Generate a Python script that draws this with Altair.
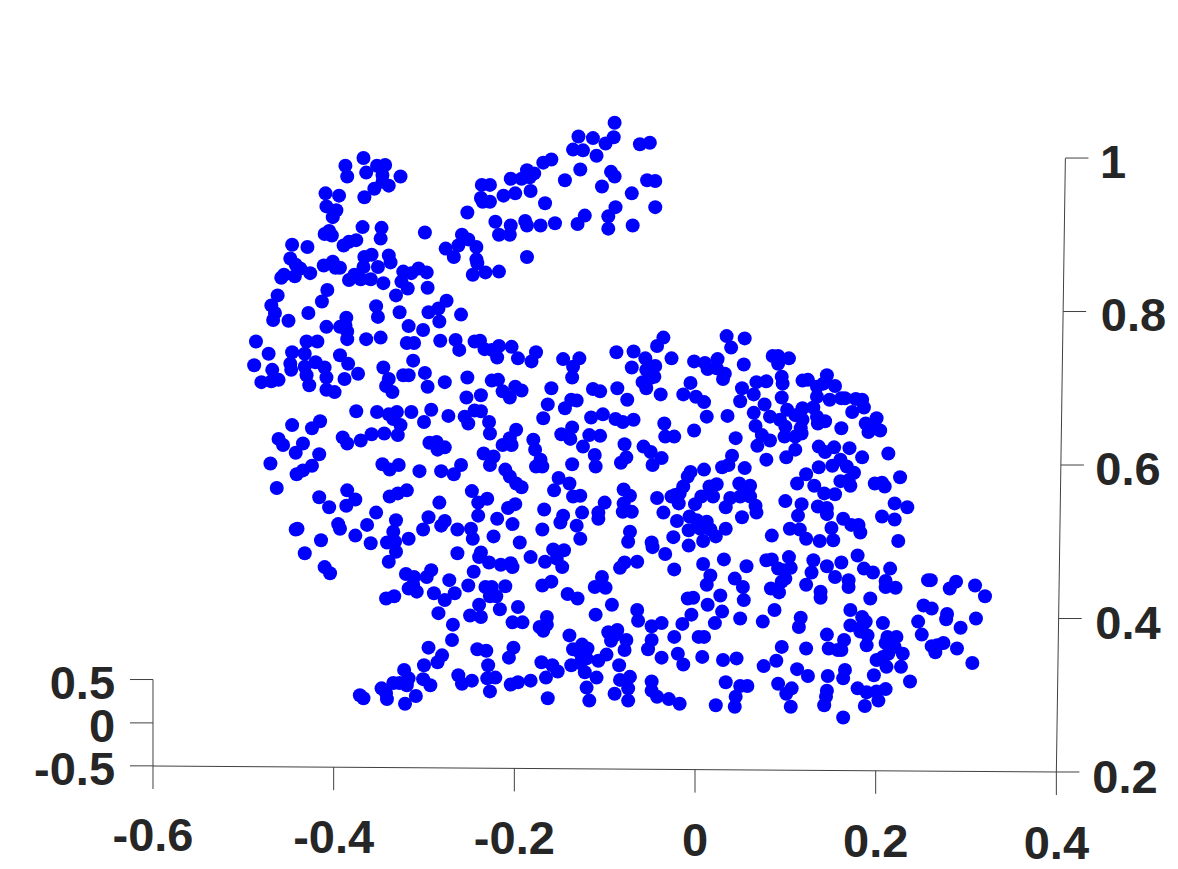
import altair as alt
import pandas as pd

# Scatter values (x on the bottom axis, z on the right axis)
ear_left_x = [-.367,-.387,-.385,-.364,-.352,-.343,-.346,-.339,-.355,-.366,-.326,-.346,-.409,-.394,-.408,-.397,-.401,-.368,-.347,-.348,-.299,-.410,-.405,-.402,-.389,-.383,-.375,-.446,-.429,-.276,-.267,-.448,-.442,-.437,-.443,-.426,-.458,-.455,-.411,-.401,-.398,-.393,-.366,-.358,-.339,-.337,-.351,-.367,-.377,-.383,-.370,-.359,-.345,-.323,-.314,-.306,-.297,-.325,-.318,-.296,-.331,-.462,-.469,-.465,-.467,-.450,-.407,-.413,-.428,-.353,-.351,-.327,-.295,-.284,-.275,-.283,-.386]
ear_left_z = [1.000,.990,.976,.981,.990,.991,.978,.964,.960,.949,.976,.969,.954,.951,.937,.932,.923,.910,.909,.895,.903,.901,.905,.899,.886,.891,.893,.887,.884,.882,.871,.869,.861,.856,.846,.850,.844,.848,.860,.865,.857,.857,.871,.874,.873,.864,.858,.858,.848,.841,.842,.842,.837,.852,.850,.856,.851,.839,.830,.831,.821,.821,.808,.798,.789,.788,.828,.813,.798,.807,.793,.799,.799,.804,.814,.787,.792]

ear_right_x = [-.089,-.090,-.129,-.113,-.099,-.124,-.135,-.109,-.061,-.050,-.159,-.168,-.127,-.093,-.089,-.186,-.178,-.192,-.183,-.204,-.144,-.053,-.044,-.103,-.236,-.227,-.182,-.070,-.199,-.212,-.237,-.235,-.227,-.166,-.252,-.088,-.044,-.122,-.096,-.130,-.221,-.204,-.188,-.186,-.171,-.155,-.069,-.096,-.217,-.205,-.258,-.251,-.262,-.242,-.186,-.242,-.241,-.246,-.232,-.217,-.259]
ear_right_z = [1.046,1.027,1.028,1.026,1.019,1.010,1.011,1.003,1.018,1.020,.998,.994,.985,.982,.976,.984,.980,.973,.975,.973,.971,.971,.970,.963,.965,.965,.957,.954,.954,.951,.948,.943,.943,.941,.929,.936,.936,.925,.924,.914,.917,.912,.918,.912,.912,.915,.912,.908,.900,.900,.900,.894,.886,.884,.871,.868,.863,.848,.851,.852,.796]

head_x = [-.408,-.393,-.387,-.385,-.385,-.364,-.348,-.317,-.301,-.319,-.311,-.282,-.486,-.472,-.488,-.446,-.430,-.418,-.432,-.393,-.384,-.312,-.448,-.447,-.420,-.410,-.432,-.430,-.468,-.480,-.469,-.461,-.373,-.408,-.388,-.345,-.339,-.342,-.335,-.323,-.317,-.299,-.296,-.277,-.427,-.408,-.399,-.375,-.352,-.339,-.330,-.314,-.292,-.273,-.334,-.326,-.300,-.415,-.424,-.446,-.461,-.456,-.434,-.442,-.416,-.470,-.390,-.385,-.370,-.358,-.344,-.329,-.294,-.286,-.277,-.285,-.424,-.434,-.441,-.346,-.338,-.328,-.305,-.281,-.267,-.463,-.416,-.385,-.376,-.386,-.405,-.319,-.329,-.338,-.353,-.283]
head_z = [.780,.780,.782,.774,.764,.764,.766,.781,.776,.759,.759,.762,.761,.745,.730,.747,.761,.761,.745,.743,.732,.736,.732,.724,.734,.727,.728,.717,.724,.708,.709,.711,.719,.714,.712,.727,.712,.703,.695,.717,.717,.720,.702,.708,.704,.698,.695,.670,.669,.666,.669,.669,.672,.664,.660,.652,.656,.657,.648,.652,.634,.626,.628,.616,.614,.602,.636,.628,.632,.640,.641,.639,.629,.630,.623,.620,.599,.593,.588,.601,.594,.600,.592,.592,.588,.570,.558,.567,.555,.547,.545,.567,.563,.559,.538,.551]

chest_x = [-.265,-.261,-.244,-.238,-.233,-.225,-.217,-.219,-.203,-.196,-.181,-.176,-.146,-.128,-.135,-.136,-.087,-.068,-.035,-.042,-.070,-.055,-.044,-.026,-.054,-.058,-.054,-.045,-.050,-.038,-.252,-.225,-.218,-.213,-.205,-.199,-.192,-.159,-.113,-.105,-.086,-.075,-.253,-.237,-.163,-.137,-.131,-.144,-.168,-.102,-.115,-.088,-.080,-.068,-.255,-.251,-.244,-.237,-.228,-.227,-.198,-.205,-.213,-.203,-.179,-.177,-.234,-.223,-.227,-.259,-.210,-.205,-.198,-.192,-.171,-.176,-.169,-.136,-.148,-.136,-.138,-.124,-.117,-.105,-.111,-.110,-.078,-.076,-.082,-.057,-.049,-.037,-.047,-.034,-.033,-.023,-.151,-.139,-.156,-.135,-.127,-.247,-.230,-.240,-.199,-.207,-.167,-.100,-.125,-.107,-.079,-.072,-.079,-.070,-.080,-.042,-.035,-.026]
chest_z = [.763,.750,.761,.762,.751,.750,.755,.740,.754,.739,.735,.747,.738,.739,.728,.714,.747,.748,.766,.755,.727,.739,.729,.739,.724,.708,.700,.715,.713,.692,.714,.710,.711,.696,.688,.702,.697,.700,.699,.696,.700,.685,.688,.691,.679,.685,.684,.674,.661,.666,.662,.660,.656,.659,.663,.654,.671,.670,.656,.641,.646,.635,.626,.626,.633,.620,.615,.611,.600,.600,.594,.585,.576,.571,.607,.598,.598,.601,.640,.649,.634,.624,.639,.638,.613,.598,.627,.610,.603,.624,.617,.609,.600,.654,.637,.637,.583,.576,.567,.559,.560,.566,.556,.551,.549,.544,.542,.551,.538,.538,.568,.560,.550,.539,.539,.557,.538,.559]

back_x = [.035,.055,.040,-.001,.011,.025,.014,.024,.033,.031,.054,.086,.092,.104,.092,.096,.097,.096,.119,.125,.146,.155,.135,.142,.079,.068,.052,.065,.050,-.005,-.013,.001,.010,.013,.036,-.001,.045,.135,.149,.162,.166,.178,.185,.187,.174,.077,.065,.083,.067,.102,.094,.100,.099,.119,.131,.111,.119,.117,.118,.111,.136,.144,.135,.162,.201,.189,.192,.205,.197,.074,.083,.069,.079,.111,.101,.041,.030,.037,.055,.137,.144,.154,.171,.185,.214,.137,.152,.161,.168,.176,.123,.113,.161,.170,.172,.227,.199,.207,.210,.132,.143,.155,.100,.118,.136,.146,.221,.235,.010,-.005,-.008,-.013,.024,.016,.020,.007,.000,-.022,-.018,-.017,.049,.061,.055,.039,.050,.061,.067,.034,.068]
back_z = [.768,.765,.753,.735,.733,.738,.725,.726,.719,.712,.731,.742,.742,.739,.732,.715,.706,.688,.710,.711,.717,.703,.702,.706,.709,.708,.700,.692,.683,.707,.692,.689,.682,.663,.664,.645,.635,.689,.685,.687,.687,.686,.685,.675,.669,.679,.668,.663,.651,.672,.659,.650,.637,.674,.675,.665,.659,.648,.641,.637,.654,.657,.663,.648,.661,.654,.643,.645,.651,.639,.632,.625,.607,.620,.610,.612,.597,.600,.596,.624,.617,.623,.622,.610,.615,.597,.599,.607,.598,.590,.588,.576,.579,.580,.573,.584,.576,.577,.572,.573,.563,.562,.553,.549,.546,.544,.550,.545,.594,.591,.585,.572,.575,.572,.559,.559,.549,.561,.550,.563,.576,.573,.565,.557,.559,.559,.547,.545,.538]

belly_left_x = [-.440,-.442,-.395,-.393,-.414,-.376,-.363,-.359,-.432,-.410,-.404,-.331,-.334,-.341,-.332,-.317,-.331,-.339,-.295,-.301,-.277,-.281,-.263,-.248,-.246,-.223,-.263,-.237,-.239,-.228,-.215,-.240,-.219,-.245,-.251,-.272,-.266,-.277,-.289,-.292,-.297,-.320,-.311,-.312,-.317,-.308,-.333,-.342,-.284,-.232,-.225,-.227,-.220,-.210,-.239,-.249,-.237,-.216,-.268,-.269,-.295,-.280,-.285,-.300,-.241,-.231,-.229,-.322,-.317,-.327,-.334,-.347,-.341,-.342,-.319,-.309,-.321,-.301,-.293,-.371,-.367,-.262,-.258,-.247,-.230,-.221,-.227]
belly_left_z = [.517,.516,.523,.517,.502,.508,.522,.498,.485,.467,.459,.528,.513,.499,.500,.504,.487,.474,.532,.516,.527,.521,.516,.517,.504,.507,.485,.486,.480,.473,.470,.534,.530,.461,.443,.450,.433,.424,.433,.463,.454,.458,.454,.444,.439,.435,.429,.426,.407,.441,.441,.429,.429,.442,.418,.404,.402,.412,.392,.372,.362,.352,.343,.339,.360,.358,.339,.333,.322,.316,.316,.309,.295,.303,.313,.299,.289,.321,.313,.300,.296,.326,.315,.319,.322,.323,.305]

belly_mid_x = [-.202,-.169,-.149,-.146,-.131,-.127,-.107,-.194,-.182,-.166,-.157,-.145,-.153,-.147,-.204,-.202,-.169,-.159,-.141,-.130,-.103,-.111,-.099,-.078,-.083,-.064,-.072,-.074,-.048,-.047,-.024,-.007,-.033,-.023,.009,.017,.013,.032,.009,.023,.034,-.020,-.007,.002,.013,-.006,.006,.017,-.008,-.002,.028,.014,.030,-.004,-.014,.022,-.092,-.110,-.064,-.063,-.037,-.048,-.023,.004,.010,-.048,-.052,-.019,-.013,-.037,.008,.031,-.196,-.202,-.191,-.164,-.172,-.164,-.168,-.139,-.096,-.086,-.089,-.093,-.076,-.078,-.125,-.119,-.135,-.127,-.120,-.137,-.127,-.122,-.098,-.107,-.201,-.206,-.170,-.158,-.152,-.165,-.084,-.109,-.072,-.083,-.074,-.089,-.074,-.120,-.117,-.163,-.204,-.196,-.182,-.048,-.048,-.042,-.029,-.017,.023,.034]
belly_mid_z = [.523,.516,.525,.534,.521,.504,.530,.499,.480,.474,.490,.489,.478,.467,.472,.467,.443,.448,.432,.426,.454,.441,.440,.473,.466,.474,.513,.500,.499,.493,.506,.495,.484,.464,.471,.456,.444,.477,.501,.507,.517,.527,.515,.528,.526,.533,.517,.516,.426,.427,.430,.418,.409,.405,.393,.394,.418,.405,.411,.397,.394,.390,.376,.376,.376,.372,.360,.354,.340,.349,.350,.346,.415,.395,.395,.402,.389,.392,.384,.378,.382,.385,.378,.371,.372,.359,.366,.361,.360,.355,.348,.339,.342,.330,.353,.345,.362,.349,.343,.339,.331,.323,.339,.323,.324,.320,.309,.302,.293,.310,.293,.296,.314,.317,.319,.318,.306,.298,.295,.289,.287,.317]

haunch_x = [.052,.114,.146,.164,.207,.221,.085,.105,.116,.123,.138,.151,.153,.173,.181,.183,.225,.180,.162,.131,.146,.129,.155,.123,.170,.170,.139,.139,.187,.197,.216,.211,.211,.222,.194,.258,.261,.289,.282,.310,.321,.253,.262,.279,.278,.311,.247,.294,.251,.275,.262,.266,.268,.290,.307,.208,.172,.185,.189,.172,.183,.191,.190,.186,.213,.223,.211,.221,.230,.214,.201,.208,.212,.228,.238,.198,.165,.146,.148,.162,.158,.123,.096,.090,.076,.113,.125,.147,.166,.164,.092,.107,.101,.106,.146,.145,.143,.180,.190,.201,.211,.203,.188,.164,.046,.050,.058,.045,.044,.085,.079,.104,.106,.092,.100,.096,.084,.093,.098,.057,.044,.053,.054,.050,.075,.088,.117,.115]
haunch_z = [.532,.534,.536,.530,.533,.529,.508,.517,.516,.504,.501,.518,.502,.522,.522,.512,.501,.482,.473,.476,.468,.460,.454,.444,.450,.441,.435,.427,.465,.460,.465,.449,.441,.440,.426,.450,.450,.448,.439,.443,.429,.417,.413,.406,.399,.400,.396,.388,.379,.368,.364,.356,.365,.361,.342,.394,.411,.402,.396,.391,.383,.378,.365,.392,.376,.376,.368,.363,.354,.354,.346,.350,.337,.337,.318,.326,.372,.379,.361,.359,.359,.361,.363,.345,.338,.334,.325,.325,.333,.322,.315,.309,.302,.285,.306,.298,.287,.309,.304,.305,.308,.293,.286,.271,.348,.312,.312,.298,.285,.477,.476,.480,.466,.465,.452,.448,.439,.434,.463,.468,.452,.441,.424,.400,.396,.411,.401,.389]

all_x = ear_left_x + ear_right_x + head_x + chest_x + back_x + belly_left_x + belly_mid_x + haunch_x
all_z = ear_left_z + ear_right_z + head_z + chest_z + back_z + belly_left_z + belly_mid_z + haunch_z

# Bottom axis: ticks and labels
x_ticks = [-0.6, -0.4, -0.2, 0.0, 0.2, 0.4]
x_tick_top = [.2078, .2063, .2047, .2031, .2016, .2000]
x_tick_bottom = [.1779, .1763, .1747, .1731, .1716, .1700]
x_labels = ["-0.6", "-0.4", "-0.2", "0", "0.2", "0.4"]
x_label_z = [.0971, .0945, .0925, .0906, .0886, .0867]

# Right axis: ticks and labels
z_ticks = [1.0, 0.8, 0.6, 0.4, 0.2]
z_tick_start = [.410, .4075, .405, .4025, .400]
z_tick_end = [.4355, .433, .4305, .428, .4255]
z_labels = ["1", "0.8", "0.6", "0.4", "0.2"]
z_label_x = [.4627, .4854, .4793, .4793, .4760]
z_label_z = [.9740, .7746, .5740, .3733, .1726]

# Small left axis (the depth axis seen edge-on)
y_tick_z = [.3205, .264, .208]
y_labels = ["0.5", "0", "-0.5"]
y_label_z = [.2951, .2391, .1831]
y_tick_left = -.6255
y_tick_right = -.600
y_label_x = -.642

# Axis lines
line_x = [-.600, -.600, .400]
line_x2 = [-.600, .400, .410]
line_z = [.3205, .2078, .2000]
line_z2 = [.2078, .2000, .9997]

X = alt.Scale(domain=[-.7605, .5258], nice=False, zero=False)
Z = alt.Scale(domain=[.0736, 1.1955], nice=False, zero=False)
INK = "#404040"
TEXT = "#262626"


def rules(frame):
    return alt.Chart(pd.DataFrame(frame)).mark_rule(color=INK, strokeWidth=1).encode(
        x=alt.X("x:Q", scale=X, axis=None),
        x2="x2:Q",
        y=alt.Y("z:Q", scale=Z, axis=None),
        y2="z2:Q",
    )


def labels(frame, align):
    return alt.Chart(pd.DataFrame(frame)).mark_text(
        font="Liberation Sans", fontSize=47, fontWeight="bold", color=TEXT,
        align=align, baseline="alphabetic",
    ).encode(
        x=alt.X("x:Q", scale=X, axis=None),
        y=alt.Y("z:Q", scale=Z, axis=None),
        text="t:N",
    )


points = alt.Chart(pd.DataFrame({"x": all_x[:len(all_z)], "z": all_z[:len(all_x)]})).mark_circle(
    color="#0000ff", size=196, opacity=1
).encode(
    x=alt.X("x:Q", scale=X, axis=None),
    y=alt.Y("z:Q", scale=Z, axis=None),
)

chart = alt.layer(
    rules({"x": line_x, "x2": line_x2, "z": line_z, "z2": line_z2}),
    rules({"x": x_ticks, "x2": x_ticks, "z": x_tick_top, "z2": x_tick_bottom}),
    rules({"x": z_tick_start, "x2": z_tick_end, "z": z_ticks, "z2": z_ticks}),
    rules({"x": [y_tick_left] * 3, "x2": [y_tick_right] * 3, "z": y_tick_z, "z2": y_tick_z}),
    points,
    labels({"x": x_ticks, "z": x_label_z, "t": x_labels}, "center"),
    labels({"x": z_label_x, "z": z_label_z, "t": z_labels}, "center"),
    labels({"x": [y_label_x] * 3, "z": y_label_z, "t": y_labels}, "right"),
).properties(
    width=1162, height=861, padding=0, autosize=alt.AutoSizeParams(type="none"),
).configure_view(stroke=None)

chart.save("out.html", embed_options={"renderer": "svg", "actions": False})
